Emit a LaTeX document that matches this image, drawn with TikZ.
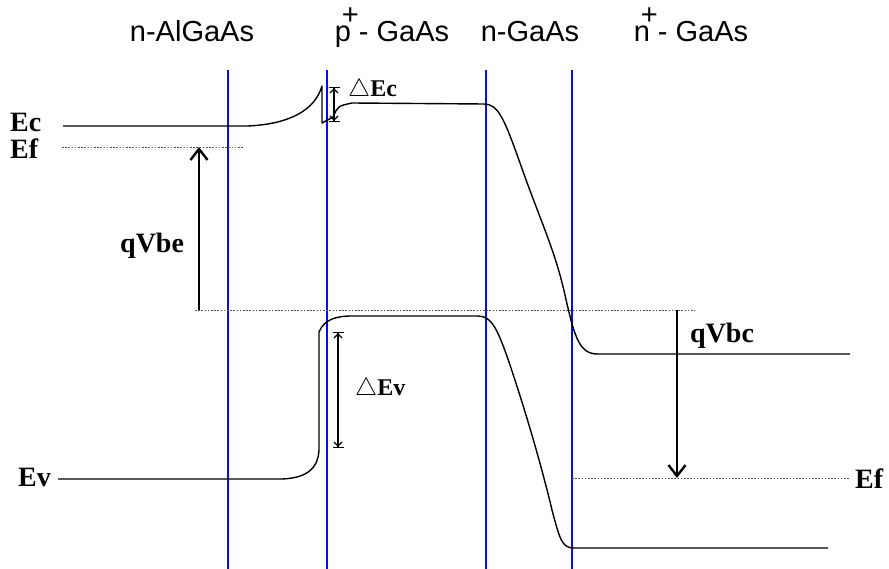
\documentclass[tikz,border=0pt]{standalone}
\usepackage{fontspec}
\setmainfont{Liberation Serif}
\newfontfamily\bolgeyazi{Liberation Sans}
\usepackage{amssymb}
\usetikzlibrary{arrows.meta}
\definecolor{sinirMavi}{HTML}{0A0AF0}
\definecolor{fermiGri}{HTML}{50505A}
\newcommand{\ustarti}{\kern-9pt\raisebox{17pt}{+}}

\begin{document}
\begin{tikzpicture}[x=1pt, y=-1pt, line join=round,
  bant/.style={line width=1.4pt},
  sinir/.style={sinirMavi, line width=1.8pt},
  fermi/.style={fermiGri, line width=0.9pt, dash pattern=on 1.6pt off 1.6pt},
  bolge/.style={font=\bolgeyazi\fontsize{29}{31}\selectfont, anchor=base, inner sep=0pt},
  etiket/.style={font=\bfseries\fontsize{28}{30}\selectfont, anchor=base west, inner sep=0pt},
  fark/.style={font=\bfseries\fontsize{24}{26}\selectfont, anchor=base west, inner sep=0pt},
  gerilim/.style={line width=1.4pt, -{Straight Barb[length=11pt,width=17pt,line width=2.4pt]}},
  aralik/.style={line width=1.2pt,
    {Bar[width=11pt,sep=0pt]Straight Barb[length=4pt,width=8pt]}-{Straight Barb[length=4pt,width=8pt,sep=0pt]Bar[width=11pt]}}]
\useasboundingbox (0,0) rectangle (889,569);
% bolge sinirlari
\foreach \x in {228,327,486,572} \draw[sinir] (\x,70) -- (\x,569);
% iletim ve valans bantlari
\draw[bant] (63,126) -- (248,126) .. controls (290,124) and (315,110) .. (322,86) -- (322,123) -- (333,117)
  .. controls (338,106) .. (352,103) -- (484,104) .. controls (498,104) and (504,118) .. (520,163)
  .. controls (540,220) and (555,250) .. (565,295) .. controls (575,340) and (580,354) .. (598,354) -- (850,354);
\draw[bant] (58,479) -- (282,479) .. controls (305,478) and (318,470) .. (319,450) -- (319,332)
  .. controls (324,320) and (335,316) .. (352,316) -- (478,316) .. controls (492,316) and (498,330) .. (510,365)
  .. controls (525,410) and (540,460) .. (552,510) .. controls (560,540) and (562,548) .. (574,548) -- (828,548);
% fermi seviyeleri
\draw[fermi] (62,147) -- (243,147);
\draw[fermi] (195,310) -- (695,310);
\draw[fermi] (572,478) -- (850,478);
% gerilim oklari
\coordinate (ebAlt) at (199,310);
\coordinate (ebUst) at (199,147);
\coordinate (bcUst) at (677,310);
\coordinate (bcAlt) at (677,478);
\draw[gerilim] (ebAlt) -- (ebUst);
\draw[gerilim] (bcUst) -- (bcAlt);
\coordinate (dcUst) at (334,87);
\coordinate (dcAlt) at (334,122);
\coordinate (dvUst) at (338,332);
\coordinate (dvAlt) at (338,448);
\draw[aralik] (dcUst) -- (dcAlt);
\draw[aralik] (dvUst) -- (dvAlt);
% etiketler
\node[bolge] (nAl) at (192,42) {n-AlGaAs};
\node[bolge] (pGa) at (392,42) {p\ustarti- GaAs};
\node[bolge] (nGa) at (530,42) {n-GaAs};
\node[bolge] (nnGa) at (691,42) {n\ustarti- GaAs};
\node[etiket] (Ec) at (10,132) {Ec};
\node[etiket] (EfSol) at (10,159) {Ef};
\node[etiket] (Ev) at (18,486) {Ev};
\node[etiket] (qVbe) at (120,253) {qVbe};
\node[etiket] (qVbc) at (690,343) {qVbc};
\node[etiket] (EfSag) at (855,488) {Ef};
\node[fark] (dEc) at (348,97) {$\triangle$Ec};
\node[fark] (dEv) at (355,395) {$\triangle$Ev};
\end{tikzpicture}
\end{document}
